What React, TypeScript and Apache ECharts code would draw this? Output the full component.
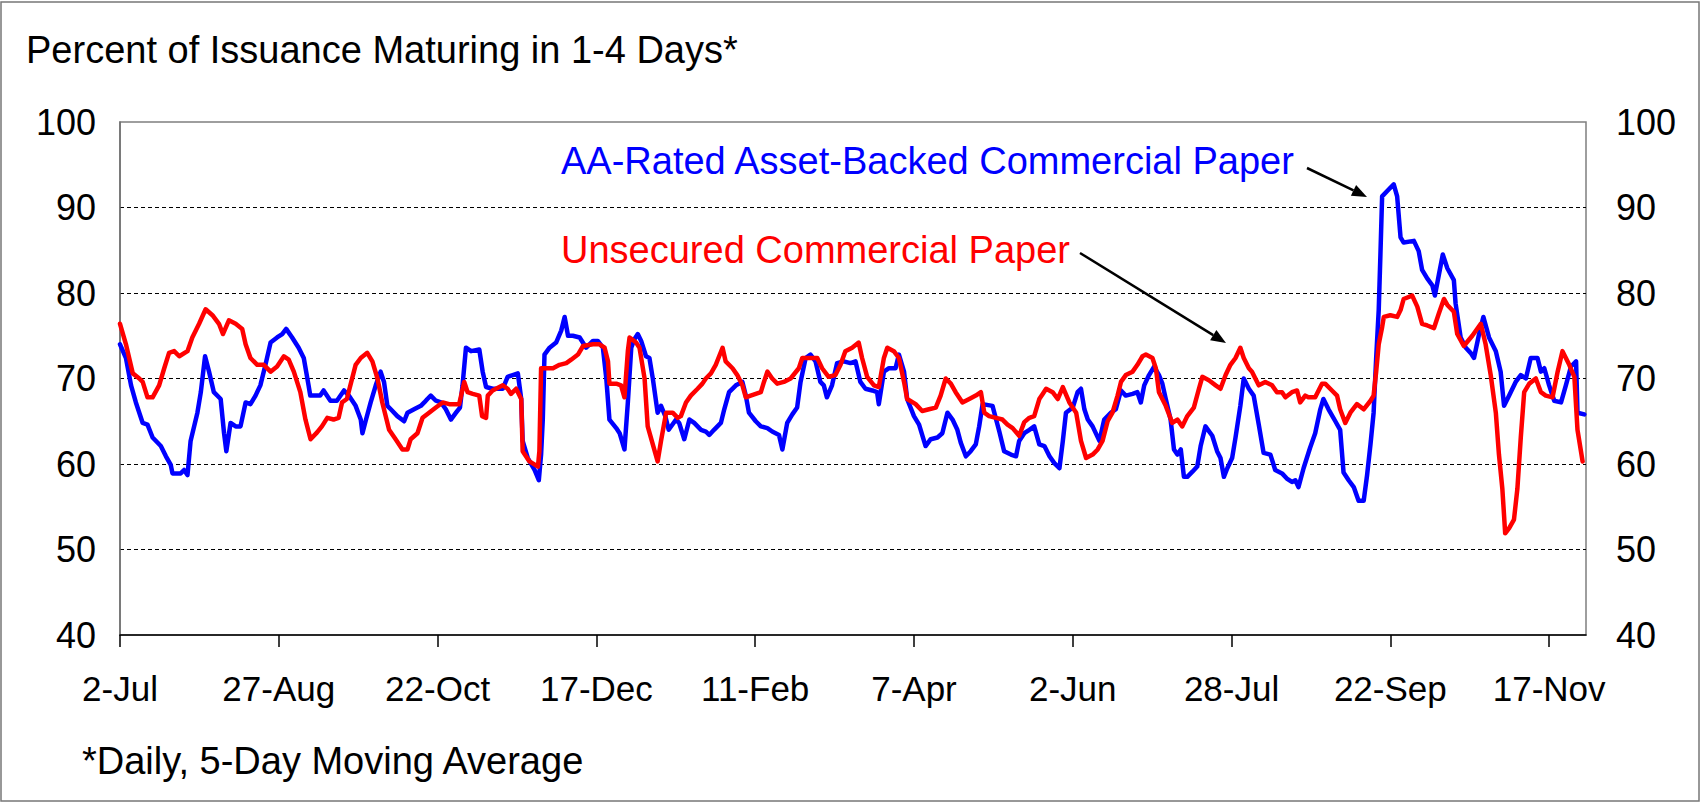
import React, { useEffect, useRef } from 'react';
import * as echarts from 'echarts';

// X axis: days since 2-Jul-2007, major ticks every 56 days
const xTickLabels = ['2-Jul', '27-Aug', '22-Oct', '17-Dec', '11-Feb', '7-Apr', '2-Jun', '28-Jul', '22-Sep', '17-Nov'];
const tickStepDays = 56;
const lastDay = 517;
const yTicks = { min: 40, max: 100, step: 10 };

// AA-Rated Asset-Backed Commercial Paper (blue)
const blueDays = [
  0, 2.1, 3.9, 5.6, 8.0, 9.7, 11.5, 14.4, 16.2, 17.9, 18.5, 21.4, 22.6, 23.8, 24.9, 27.3, 28.5, 30.0, 31.4, 33.1,
  35.5, 36.7, 37.5, 39.0, 40.8, 42.5, 44.3, 46.0, 47.8, 49.5, 51.3, 53.1, 55.4, 57.2, 58.6, 60.7, 63.0, 64.8, 66.5, 67.1,
  70.6, 71.8, 74.2, 76.5, 79.0, 80.7, 83.1, 84.9, 85.5, 86.6, 88.4, 90.2, 91.9, 93.1, 94.3, 95.5, 97.8, 100.2, 101.4, 103.7,
  106.1, 107.3, 108.4, 109.6, 111.4, 113.2, 114.9, 116.7, 118.5, 119.9, 120.8, 122.0, 123.8, 126.7, 127.9, 129.1, 131.4, 135.0, 136.7, 138.5,
  140.3, 141.5, 142.0, 143.8, 146.2, 147.7, 148.5, 149.1, 149.7, 151.5, 153.8, 155.6, 156.8, 158.0, 159.7, 162.1, 164.4, 166.8, 168.5, 170.3,
  171.5, 172.6, 175.0, 176.2, 177.9, 179.1, 180.3, 181.4, 182.6, 183.8, 185.5, 186.7, 187.9, 189.6, 190.8, 192.3, 193.5, 196.1, 197.2, 199.0,
  200.8, 202.5, 204.9, 206.6, 207.8, 209.5, 211.9, 213.1, 214.8, 217.2, 219.5, 220.7, 221.8, 224.2, 226.0, 228.3, 230.0, 232.4, 233.6, 235.3,
  237.1, 238.8, 240.0, 241.8, 243.5, 245.3, 247.0, 248.2, 249.3, 251.1, 252.9, 255.2, 257.6, 259.4, 261.1, 262.9, 265.3, 267.0, 267.6, 269.4,
  271.2, 273.5, 274.7, 276.5, 277.6, 280.0, 281.8, 284.1, 285.9, 288.3, 290.0, 291.8, 293.6, 295.3, 296.5, 298.3, 300.0, 301.8, 303.0, 304.2,
  307.7, 310.1, 311.8, 314.2, 316.0, 317.1, 318.9, 320.7, 322.4, 324.2, 326.0, 327.8, 329.5, 331.3, 332.5, 333.6, 336.0, 337.7, 338.9, 340.1,
  341.3, 343.0, 345.4, 347.1, 349.5, 351.2, 353.0, 354.7, 357.1, 358.8, 360.0, 361.2, 362.9, 364.7, 366.4, 367.6, 368.8, 370.5, 371.7, 372.9,
  374.1, 375.2, 376.4, 378.2, 379.9, 381.1, 382.8, 385.2, 386.9, 388.1, 389.3, 390.5, 392.2, 393.4, 395.1, 396.3, 398.1, 399.8, 401.6, 403.3,
  405.7, 407.4, 409.8, 411.5, 413.3, 414.5, 415.6, 417.4, 419.7, 421.5, 423.3, 424.4, 426.2, 428.6, 430.3, 431.5, 433.3, 435.1, 436.8, 438.6,
  439.8, 441.0, 442.1, 443.0, 443.9, 444.5, 445.1, 447.4, 449.2, 450.4, 451.6, 452.7, 456.3, 458.0, 459.2, 461.0, 462.8, 463.7, 465.1, 466.5,
  468.1, 470.4, 471.0, 472.8, 474.6, 476.3, 477.5, 479.3, 480.8, 482.8, 485.2, 486.9, 488.1, 489.9, 492.2, 494.0, 495.8, 497.5, 499.9, 501.1,
  502.3, 504.0, 505.8, 508.2, 509.9, 511.7, 513.5, 514.0, 516.4,
];
const blueValues = [
  74.0, 72.4, 69.2, 67.2, 64.8, 64.6, 63.1, 62.1, 60.9, 59.9, 58.9, 58.9, 59.3, 58.7, 62.7, 66.0, 68.4, 72.6, 70.8, 68.4,
  67.6, 63.6, 61.5, 64.8, 64.4, 64.4, 67.2, 67.0, 68.0, 69.2, 71.6, 74.2, 74.8, 75.2, 75.8, 74.8, 73.6, 72.4, 69.2, 68.0,
  68.0, 68.6, 67.4, 67.4, 68.6, 68.0, 66.8, 65.2, 63.6, 65.0, 67.2, 69.2, 70.8, 69.6, 66.8, 66.4, 65.6, 65.0, 66.0, 66.4,
  66.8, 67.2, 67.6, 68.0, 67.4, 67.2, 66.4, 65.2, 66.0, 66.6, 69.2, 73.6, 73.2, 73.4, 70.8, 69.0, 68.8, 68.8, 70.2, 70.4,
  70.6, 67.6, 62.7, 60.7, 59.3, 58.1, 61.1, 65.2, 72.8, 73.6, 74.2, 75.6, 77.2, 75.0, 75.0, 74.8, 73.6, 74.4, 74.4, 73.6,
  70.0, 65.2, 64.2, 63.6, 61.7, 67.2, 73.6, 74.6, 75.2, 74.4, 72.6, 72.4, 70.0, 66.0, 66.8, 65.6, 64.0, 65.2, 64.8, 62.9,
  65.2, 64.8, 64.0, 63.8, 63.4, 64.0, 64.8, 66.4, 68.4, 69.2, 69.6, 68.0, 66.0, 65.0, 64.4, 64.2, 63.8, 63.4, 61.7, 64.8,
  65.8, 66.6, 69.6, 72.4, 72.8, 72.0, 69.6, 69.2, 67.8, 69.2, 71.8, 72.0, 71.8, 72.0, 69.6, 68.8, 68.6, 68.4, 67.0, 70.8,
  71.2, 71.2, 72.8, 70.8, 67.6, 65.6, 64.6, 62.1, 62.9, 63.1, 63.6, 66.0, 65.2, 64.0, 62.5, 60.9, 61.5, 62.3, 64.4, 67.0,
  66.8, 63.8, 61.5, 61.1, 60.9, 62.7, 63.6, 64.0, 64.4, 62.3, 62.1, 60.9, 60.1, 59.5, 62.7, 66.0, 66.6, 68.4, 68.8, 66.4,
  65.2, 64.4, 62.7, 65.2, 66.0, 66.4, 68.6, 68.0, 68.2, 68.4, 67.2, 69.2, 70.4, 71.4, 70.4, 69.4, 67.6, 65.2, 61.7, 61.1,
  61.7, 58.5, 58.5, 59.1, 59.7, 62.1, 64.4, 63.3, 61.5, 60.7, 58.5, 59.5, 60.7, 63.1, 66.8, 70.0, 68.8, 68.0, 64.6, 61.3,
  61.1, 59.3, 58.9, 58.3, 57.9, 58.1, 57.3, 59.5, 61.9, 63.6, 66.4, 67.6, 66.4, 65.0, 64.0, 59.0, 58.1, 57.3, 55.7, 55.7,
  58.7, 62.3, 66.0, 72.4, 78.0, 84.5, 91.3, 92.1, 92.7, 91.3, 86.5, 85.9, 86.1, 84.9, 82.7, 81.7, 80.9, 79.7, 82.1, 84.5,
  82.9, 81.5, 78.8, 74.8, 73.6, 73.0, 72.4, 75.2, 77.2, 74.8, 73.2, 70.8, 66.8, 68.0, 69.6, 70.4, 70.0, 72.4, 72.4, 70.8,
  71.2, 69.2, 67.4, 67.2, 69.2, 71.4, 72.0, 66.0, 65.8,
];

// Unsecured Commercial Paper (red)
const redDays = [
  0, 2.1, 4.5, 6.8, 8.0, 9.7, 11.5, 13.8, 15.6, 17.3, 19.1, 20.9, 23.8, 25.5, 27.9, 30.2, 32.6, 34.9, 36.3, 38.4,
  40.8, 43.1, 44.3, 46.0, 48.4, 50.7, 53.1, 55.4, 57.8, 59.5, 61.3, 63.6, 65.4, 67.2, 69.5, 71.2, 73.1, 75.3, 77.1, 78.3,
  80.0, 83.1, 84.9, 87.2, 89.0, 90.8, 92.5, 94.9, 97.2, 99.6, 101.4, 102.5, 104.9, 106.7, 109.0, 111.4, 113.8, 116.1, 119.6, 121.4,
  122.6, 124.4, 126.7, 127.7, 129.1, 129.7, 131.4, 135.0, 136.7, 137.9, 139.7, 141.5, 142.0, 144.4, 147.4, 147.9, 148.5, 149.7, 152.7, 155.0,
  157.4, 159.1, 161.5, 163.3, 166.8, 169.1, 170.9, 172.1, 172.6, 175.0, 176.7, 177.9, 179.1, 179.7, 182.0, 183.2, 185.0, 186.1, 187.9, 189.6,
  190.8, 192.6, 194.9, 196.7, 197.8, 199.6, 201.3, 203.7, 205.4, 206.6, 208.4, 210.1, 211.3, 212.5, 213.6, 216.0, 217.7, 219.5, 220.7, 222.4,
  224.2, 226.0, 227.1, 228.3, 230.0, 231.8, 234.1, 236.5, 239.4, 240.6, 242.9, 245.9, 247.6, 249.9, 252.3, 254.1, 255.8, 258.2, 260.5, 261.7,
  263.5, 265.9, 267.6, 269.4, 270.6, 272.9, 274.7, 276.5, 277.6, 280.6, 282.9, 285.3, 287.7, 289.4, 291.2, 293.0, 294.7, 297.1, 299.5, 301.8,
  303.6, 304.8, 306.5, 308.9, 311.2, 313.0, 314.8, 317.1, 318.9, 320.7, 322.4, 324.2, 325.4, 326.6, 328.9, 330.7, 332.5, 334.8, 337.2, 338.9,
  340.7, 343.0, 344.8, 346.5, 348.3, 350.0, 351.8, 353.0, 354.7, 357.1, 358.8, 360.6, 361.8, 364.1, 365.3, 366.4, 368.8, 371.1, 372.9, 374.6,
  376.4, 378.7, 380.5, 381.7, 384.0, 386.4, 388.1, 389.9, 391.6, 393.4, 395.1, 396.3, 398.1, 399.2, 400.4, 401.6, 403.9, 406.3, 408.0, 409.8,
  411.0, 413.3, 415.1, 416.2, 418.0, 419.1, 421.5, 423.9, 425.0, 427.4, 429.2, 430.3, 432.1, 433.9, 436.2, 438.6, 441.0, 442.1, 443.0, 443.9,
  445.1, 445.7, 448.0, 450.4, 451.6, 452.7, 455.7, 457.5, 459.2, 461.0, 463.4, 465.1, 466.9, 468.1, 470.4, 471.6, 473.9, 476.9, 479.9, 481.6,
  483.4, 485.2, 486.3, 487.5, 488.5, 489.9, 491.6, 492.8, 494.0, 495.2, 497.0, 499.3, 501.1, 502.8, 505.2, 507.0, 508.7, 511.1, 512.9, 514.0,
  515.8,
];
const redValues = [
  76.4, 74.0, 70.6, 70.0, 69.6, 67.8, 67.8, 69.2, 71.2, 73.0, 73.2, 72.6, 73.2, 74.8, 76.4, 78.1, 77.4, 76.4, 75.2, 76.8,
  76.4, 75.8, 74.0, 72.4, 71.6, 71.6, 70.8, 71.4, 72.6, 72.2, 70.8, 68.4, 65.2, 62.9, 63.7, 64.4, 65.4, 65.2, 65.4, 67.2,
  67.6, 71.6, 72.4, 73.0, 72.0, 70.0, 67.2, 64.0, 62.9, 61.7, 61.7, 62.9, 63.6, 65.4, 66.0, 66.6, 67.2, 67.0, 67.0, 69.6,
  68.4, 68.2, 68.0, 65.6, 65.4, 68.0, 68.6, 69.2, 68.8, 68.2, 68.8, 67.6, 61.5, 60.3, 59.7, 61.5, 71.2, 71.2, 71.2, 71.6,
  71.8, 72.2, 72.8, 73.8, 74.0, 74.0, 73.6, 72.0, 69.4, 69.4, 69.2, 67.8, 73.2, 74.8, 74.2, 73.6, 70.0, 64.4, 62.3, 60.3,
  62.7, 66.0, 66.0, 65.4, 65.6, 67.2, 68.0, 68.8, 69.4, 70.0, 70.6, 71.6, 72.6, 73.6, 72.0, 71.2, 70.4, 69.2, 67.8, 68.0,
  68.2, 68.4, 69.6, 70.8, 70.0, 69.4, 69.6, 70.0, 71.2, 72.4, 72.4, 72.4, 71.2, 70.2, 70.4, 71.6, 73.2, 73.6, 74.2, 72.4,
  70.2, 69.2, 69.0, 72.4, 73.6, 73.2, 72.4, 69.6, 67.6, 67.0, 66.2, 66.4, 66.6, 68.0, 70.0, 69.4, 68.4, 67.2, 67.6, 68.0,
  68.4, 66.0, 65.6, 65.4, 65.2, 64.6, 64.2, 63.3, 64.9, 65.4, 65.6, 67.6, 68.2, 68.8, 68.4, 67.6, 69.0, 67.2, 66.0, 62.7,
  60.7, 61.1, 61.7, 62.7, 65.0, 66.0, 68.0, 69.6, 70.4, 70.8, 71.6, 72.6, 72.8, 72.4, 71.2, 68.4, 66.8, 64.8, 65.2, 64.4,
  65.6, 66.6, 68.8, 70.2, 69.8, 69.2, 68.8, 70.4, 71.6, 72.4, 73.6, 72.4, 71.2, 70.8, 70.0, 69.2, 69.6, 69.2, 68.4, 68.4,
  67.8, 68.4, 68.6, 67.2, 68.0, 67.8, 67.8, 69.4, 69.4, 68.6, 68.0, 66.4, 64.8, 66.0, 67.0, 66.4, 67.4, 68.0, 70.8, 74.0,
  76.0, 77.2, 77.4, 77.2, 78.0, 79.3, 79.7, 78.4, 76.4, 76.2, 75.9, 77.6, 79.3, 78.6, 77.8, 75.2, 73.8, 75.0, 76.4, 74.0,
  70.4, 66.0, 61.1, 57.1, 51.9, 52.5, 53.5, 57.1, 63.1, 68.4, 69.4, 70.0, 68.4, 68.0, 67.8, 70.8, 73.2, 71.6, 70.2, 64.0,
  60.3,
];

const FONT = '"Liberation Sans", Arial, Helvetica, sans-serif';
const BLUE = '#0000FF';
const RED = '#FF0000';

function arrow(x1: number, y1: number, x2: number, y2: number) {
  const dx = x2 - x1;
  const dy = y2 - y1;
  const len = Math.hypot(dx, dy);
  const ux = dx / len;
  const uy = dy / len;
  const head = 15;
  const half = 6;
  const bx = x2 - ux * head;
  const by = y2 - uy * head;
  const nx = -uy;
  const ny = ux;
  return [
    { type: 'line', shape: { x1, y1, x2: bx, y2: by }, style: { stroke: '#000', lineWidth: 2.5 } },
    {
      type: 'polygon',
      shape: { points: [[x2, y2], [bx + nx * half, by + ny * half], [bx - nx * half, by - ny * half]] },
      style: { fill: '#000' },
    },
  ];
}

export default function App() {
  const ref = useRef<HTMLDivElement>(null);

  useEffect(() => {
    document.body.style.margin = '0';
    if (!ref.current) return;
    const chart = echarts.init(ref.current, undefined, { renderer: 'svg' });
    const tickDays = xTickLabels.map((_, i) => i * tickStepDays);

    const option: any = {
      animation: false,
      backgroundColor: '#ffffff',
      textStyle: { fontFamily: FONT },
      grid: {
        left: 120,
        right: 115,
        top: 122,
        bottom: 168,
        show: true,
        borderColor: '#7f7f7f',
        borderWidth: 1.5,
        backgroundColor: 'transparent',
      },
      xAxis: {
        type: 'value',
        min: 0,
        max: lastDay,
        interval: tickStepDays,
        axisLine: { show: true, lineStyle: { color: '#000', width: 1.5 } },
        axisTick: {
          show: true,
          inside: false,
          length: 12,
          customValues: tickDays,
          lineStyle: { color: '#000', width: 1.5 },
        },
        axisLabel: {
          customValues: tickDays,
          formatter: (v: number) => xTickLabels[Math.round(v / tickStepDays)] ?? '',
          fontSize: 35,
          fontFamily: FONT,
          color: '#000',
          margin: 36,
        },
        splitLine: { show: false },
      },
      yAxis: [
        {
          type: 'value',
          min: yTicks.min,
          max: yTicks.max,
          interval: yTicks.step,
          position: 'left',
          axisLine: { show: true, lineStyle: { color: '#6e6e6e', width: 1.5 } },
          axisTick: { show: false },
          axisLabel: { fontSize: 36, fontFamily: FONT, color: '#000', margin: 24 },
          splitLine: {
            show: true,
            showMinLine: false,
            showMaxLine: false,
            lineStyle: { color: '#000', type: [4, 3], width: 1 },
          },
        },
        {
          type: 'value',
          min: yTicks.min,
          max: yTicks.max,
          interval: yTicks.step,
          position: 'right',
          axisLine: { show: false },
          axisTick: { show: false },
          axisLabel: { fontSize: 36, fontFamily: FONT, color: '#000', margin: 30 },
          splitLine: { show: false },
        },
      ],
      series: [
        {
          type: 'line',
          name: 'AA-Rated Asset-Backed Commercial Paper',
          data: blueDays.map((d, i) => [d, blueValues[i]]),
          showSymbol: false,
          symbol: 'none',
          lineStyle: { color: BLUE, width: 4.5, join: 'round', cap: 'round' },
          itemStyle: { color: BLUE },
          z: 3,
        },
        {
          type: 'line',
          name: 'Unsecured Commercial Paper',
          data: redDays.map((d, i) => [d, redValues[i]]),
          showSymbol: false,
          symbol: 'none',
          lineStyle: { color: RED, width: 4.5, join: 'round', cap: 'round' },
          itemStyle: { color: RED },
          z: 4,
        },
      ],
      graphic: [
        {
          type: 'rect',
          shape: { x: 1, y: 2, width: 1698, height: 799 },
          style: { fill: 'none', stroke: '#777', lineWidth: 1.5 },
          silent: true,
          z: -1,
        },
        {
          type: 'text',
          x: 26,
          y: 50,
          style: {
            text: 'Percent of Issuance Maturing in 1-4 Days*',
            font: `38px ${FONT}`,
            fill: '#000',
            textAlign: 'left',
            textVerticalAlign: 'middle',
          },
        },
        {
          type: 'text',
          x: 82,
          y: 761,
          style: {
            text: '*Daily, 5-Day Moving Average',
            font: `38px ${FONT}`,
            fill: '#000',
            textAlign: 'left',
            textVerticalAlign: 'middle',
          },
        },
        {
          type: 'text',
          x: 561,
          y: 161,
          style: {
            text: 'AA-Rated Asset-Backed Commercial Paper',
            font: `38px ${FONT}`,
            fill: BLUE,
            textAlign: 'left',
            textVerticalAlign: 'middle',
          },
          z: 10,
        },
        {
          type: 'text',
          x: 561,
          y: 250,
          style: {
            text: 'Unsecured Commercial Paper',
            font: `38px ${FONT}`,
            fill: RED,
            textAlign: 'left',
            textVerticalAlign: 'middle',
          },
          z: 10,
        },
        ...arrow(1307, 168, 1367, 197),
        ...arrow(1080, 253, 1226, 343),
      ],
    };

    chart.setOption(option);
    return () => {
      chart.dispose();
    };
  }, []);

  return <div ref={ref} style={{ width: 1701, height: 803 }} />;
}
